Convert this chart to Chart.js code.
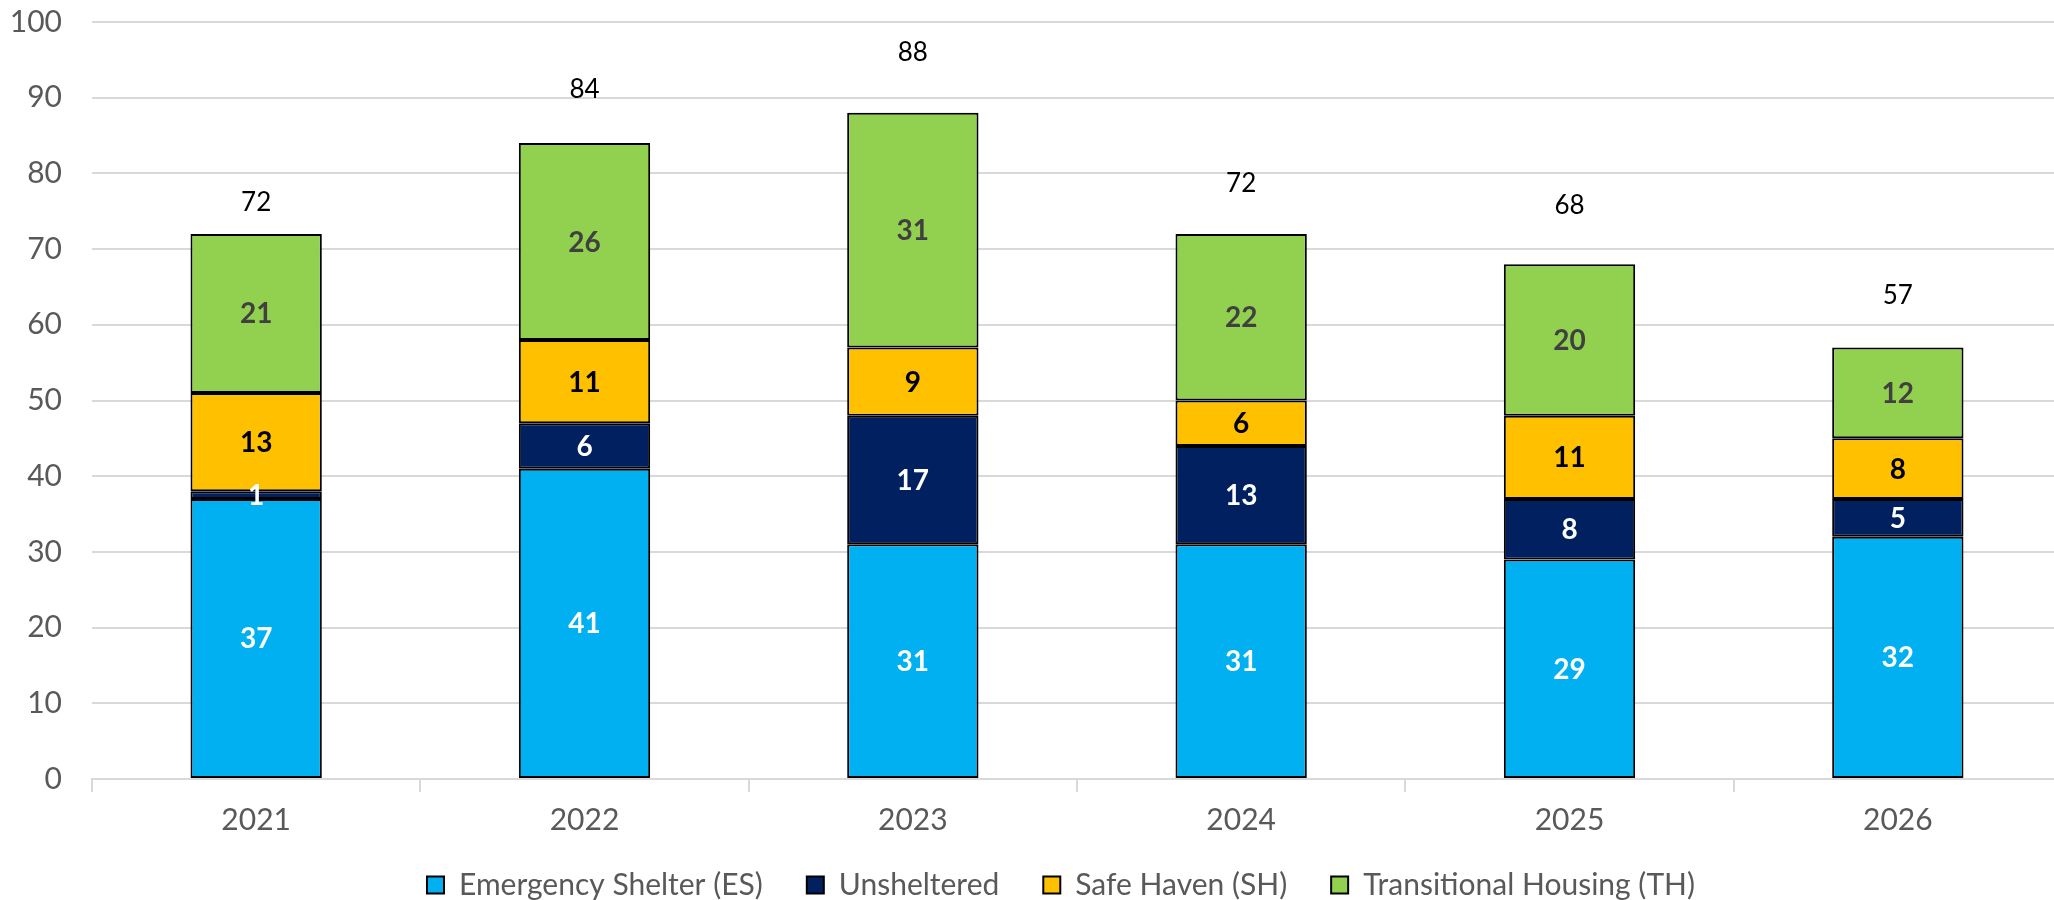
<!DOCTYPE html>
<html>
<head>
<meta charset="utf-8">
<script src="https://cdn.jsdelivr.net/npm/chart.js@4.4.1/dist/chart.umd.min.js"></script>
<style>
  html, body { margin: 0; padding: 0; background: #fff; overflow: hidden; }
  #wrap { width: 2062px; height: 900px; position: relative; }
</style>
</head>
<body>
<div id="wrap"><canvas id="grafico"></canvas></div>
<script>
"use strict";

/* ── DADOS ─────────────────────────────── */
const anos         = ["2021", "2022", "2023", "2024", "2025", "2026"];
const emergencia   = [37, 41, 31, 31, 29, 32];
const semAbrigo    = [1, 6, 17, 13, 8, 5];
const refugio      = [13, 11, 9, 6, 11, 8];
const transitoria  = [21, 26, 31, 22, 20, 12];
const totais       = [72, 84, 88, 72, 68, 57];
const ticksY       = [0, 10, 20, 30, 40, 50, 60, 70, 80, 90, 100];
// altura (em unidades do eixo) onde cada total aparece no original
const alturaTotal  = [76.1, 91.1, 95.9, 78.6, 75.8, 63.8];

const FONTE = "Lato, 'Open Sans', sans-serif";

/* ── RÓTULOS (plugin próprio) ──────────── */
const rotulos = {
  id: "rotulos",
  afterDatasetsDraw(chart) {
    const ctx = chart.ctx;
    ctx.save();
    ctx.textAlign = "center";
    ctx.textBaseline = "middle";
    chart.data.datasets.forEach((ds, i) => {
      const meta = chart.getDatasetMeta(i);
      ctx.font = "bold 28px " + FONTE;
      ctx.fillStyle = ds.corRotulo;
      meta.data.forEach((bar, j) => {
        const yMeio = (bar.y + bar.base) / 2;
        ctx.fillText(String(ds.data[j]), bar.x, yMeio + 1);
      });
    });
    const y = chart.scales.y;
    const topo = chart.getDatasetMeta(chart.data.datasets.length - 1);
    ctx.font = "26px " + FONTE;
    ctx.fillStyle = "#000";
    topo.data.forEach((bar, j) => {
      ctx.fillText(String(totais[j]), bar.x, y.getPixelForValue(alturaTotal[j]));
    });
    ctx.restore();
  }
};

/* ── LEGENDA MAIS PERTO DO EIXO ────────── */
// sobe só o topo da caixa (o fundo fica), senão o clip da legenda corta o texto
const SUBIR = 12;
const DIREITA = 30;
const ajustarLegenda = {
  id: "ajustarLegenda",
  afterUpdate(chart) {
    const lg = chart.legend;
    if (!lg) return;
    lg.top -= SUBIR;
    lg.left += DIREITA;
    lg.right += DIREITA;
    (lg.legendHitBoxes || []).forEach(h => { h.top -= SUBIR; h.left += DIREITA; });
  }
};

/* ── GRÁFICO ───────────────────────────── */
function serie(label, data, cor, corRotulo) {
  return {
    label, data,
    backgroundColor: cor,
    borderColor: "#000",
    borderWidth: 2,
    borderSkipped: false,
    corRotulo,
    barPercentage: 0.4,
    categoryPercentage: 1
  };
}

new Chart(document.getElementById("grafico"), {
  type: "bar",
  data: {
    labels: anos,
    datasets: [
      serie("Emergency Shelter (ES)", emergencia, "#00B0F0", "#fff"),
      serie("Unsheltered", semAbrigo, "#002060", "#fff"),
      serie("Safe Haven (SH)", refugio, "#FFC000", "#000"),
      serie("Transitional Housing (TH)", transitoria, "#92D050", "#404040")
    ]
  },
  options: {
    responsive: true,
    maintainAspectRatio: false,
    animation: false,
    layout: { padding: { top: 22, right: 0, left: 0, bottom: 0 } },
    plugins: {
      tooltip: { enabled: false },
      legend: {
        position: "bottom",
        maxHeight: 62,
        labels: {
          color: "#595959",
          font: { family: FONTE, size: 30 },
          boxWidth: 17,
          boxHeight: 17,
          padding: 44
        }
      }
    },
    scales: {
      x: {
        stacked: true,
        afterFit: axis => {
          axis.height = 59;
          axis.paddingLeft = 0;
          axis.paddingRight = 0;
        },
        grid: {
          display: true,
          drawOnChartArea: false,
          drawTicks: true,
          tickLength: 13,
          color: "#d9d9d9",
          lineWidth: 2
        },
        border: { display: true, color: "#d9d9d9", width: 2 },
        ticks: {
          color: "#595959",
          font: { family: FONTE, size: 30 },
          padding: 10
        }
      },
      y: {
        stacked: true,
        min: 0,
        max: 100,
        afterBuildTicks: axis => { axis.ticks = ticksY.map(v => ({ value: v })); },
        afterFit: axis => {
          axis.width = 92;
          axis.paddingTop = 0;
          axis.paddingBottom = 0;
        },
        grid: { color: "#d9d9d9", lineWidth: 2, drawTicks: false },
        border: { display: false },
        ticks: {
          color: "#595959",
          font: { family: FONTE, size: 30 },
          padding: 30
        }
      }
    }
  },
  plugins: [rotulos, ajustarLegenda]
});
</script>
</body>
</html>
